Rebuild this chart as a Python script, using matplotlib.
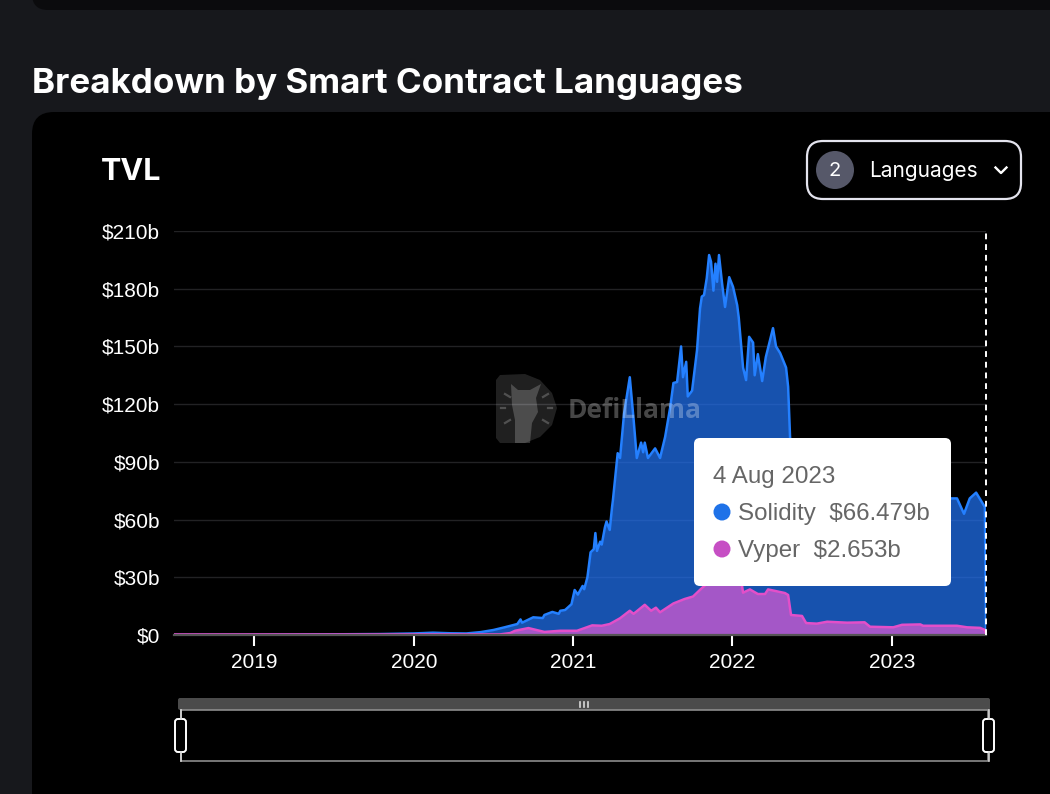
import matplotlib
matplotlib.use("Agg")
import matplotlib.pyplot as plt
from matplotlib.patches import FancyBboxPatch, Circle, Rectangle, Polygon

# Chart values. Years are decimal, values in $b.
solidity_years = [2018.495, 2019.0, 2019.47, 2019.79, 2020.0, 2020.12, 2020.23, 2020.33, 2020.42, 2020.50,
                  2020.57, 2020.65, 2020.67, 2020.68, 2020.75, 2020.81, 2020.82, 2020.87, 2020.91, 2020.92,
                  2020.95, 2020.99, 2021.01, 2021.03, 2021.06, 2021.07, 2021.09, 2021.11, 2021.13, 2021.14,
                  2021.15, 2021.17, 2021.18, 2021.20, 2021.21, 2021.23, 2021.245, 2021.25, 2021.28, 2021.295,
                  2021.32, 2021.356, 2021.38, 2021.40, 2021.427, 2021.44, 2021.45, 2021.47, 2021.515, 2021.546,
                  2021.578, 2021.61, 2021.63, 2021.653, 2021.678, 2021.69, 2021.71, 2021.72, 2021.747, 2021.778,
                  2021.797, 2021.808, 2021.822, 2021.839, 2021.854, 2021.866, 2021.881, 2021.894, 2021.904, 2021.916,
                  2021.935, 2021.954, 2021.98, 2022.004, 2022.03, 2022.04, 2022.067, 2022.086, 2022.105, 2022.13,
                  2022.14, 2022.16, 2022.187, 2022.21, 2022.255, 2022.274, 2022.30, 2022.337, 2022.35, 2022.362,
                  2022.375, 2022.425, 2022.49, 2022.61, 2022.74, 2022.864, 2023.0, 2023.115, 2023.24, 2023.373,
                  2023.41, 2023.454, 2023.49, 2023.53, 2023.585, 2023.592]
solidity_tvl = [0.05, 0.1, 0.35, 0.5, 0.8, 1.2, 0.9, 0.8, 1.5, 2.6,
                4, 5.7, 8.1, 6.4, 9.2, 8.8, 10.4, 12, 11, 12.6,
                13, 16, 23.4, 21, 25.5, 23.8, 30, 43, 44.6, 53,
                43.7, 48.5, 47, 56, 59, 54.6, 66.7, 70, 94.5, 92,
                115, 134, 112, 92, 100, 95, 100, 92, 97, 92,
                103, 118.5, 131, 131.5, 150, 134, 142, 124, 127, 148,
                169.8, 175.9, 176.7, 185.4, 197.5, 194, 179, 193, 183.6, 197.5,
                183, 170.5, 186, 181, 171.5, 165, 139, 132.5, 155, 152,
                135, 146, 132, 144.5, 159.5, 150, 146.5, 139, 129, 103,
                90, 82, 70, 62, 55, 52, 55, 60, 65, 71,
                71, 63, 71, 74, 66.5, 0]

vyper_years = [2018.495, 2019.0, 2020.0, 2020.54, 2020.605, 2020.636, 2020.72, 2020.82, 2020.92, 2021.025,
               2021.12, 2021.18, 2021.23, 2021.295, 2021.356, 2021.38, 2021.45, 2021.49, 2021.52, 2021.546,
               2021.63, 2021.70, 2021.753, 2021.81, 2021.89, 2021.98, 2022.06, 2022.067, 2022.11, 2022.16,
               2022.205, 2022.224, 2022.33, 2022.35, 2022.368, 2022.437, 2022.463, 2022.53, 2022.595, 2022.72,
               2022.83, 2022.864, 2023.01, 2023.065, 2023.18, 2023.197, 2023.41, 2023.473, 2023.555, 2023.585,
               2023.592]
vyper_tvl = [0.3, 0.3, 0.3, 0.3, 1, 2.2, 3.6, 1.6, 2.2, 2.2,
             5, 4.8, 5.7, 8.7, 12.6, 11, 15.7, 12.6, 14.2, 11.8,
             16.4, 18.7, 20, 24.5, 30, 34, 26, 22, 23.7, 21.3,
             21.3, 23.7, 21.8, 20.8, 10.4, 9.9, 6.2, 5.9, 6.9, 6.4,
             6.6, 4.3, 4, 5.3, 5.5, 4.8, 4.8, 4, 3.7, 2.65,
             0]

y_ticks = [0, 30, 60, 90, 120, 150, 180, 210]
x_ticks = [2019, 2020, 2021, 2022, 2023]

page_bg = "#17181c"
blue = "#2172f2"
pink = "#e34fc9"
sans = ["Liberation Sans", "DejaVu Sans"]
ui = ["Inter", "DejaVu Sans"]

fig = plt.figure(figsize=(10.5, 7.94), dpi=100, facecolor=page_bg)


def pixel_axes(zorder):
    # Full figure axes measured in picture pixels, y going down.
    a = fig.add_axes([0, 0, 1, 1], zorder=zorder)
    a.set_xlim(0, 1050)
    a.set_ylim(794, 0)
    a.axis("off")
    return a


def rounded(a, x0, y0, x1, y1, r, **kw):
    box = FancyBboxPatch((x0 + r, y0 + r), x1 - x0 - 2 * r, y1 - y0 - 2 * r,
                         boxstyle=f"round,pad={r},rounding_size={r}", **kw)
    a.add_patch(box)
    return box


# Page background and cards.
back = pixel_axes(0)
rounded(back, 32, -40, 1100, 10, 16, fc="#0b0b0d", ec="none")
rounded(back, 32, 112, 1100, 860, 22, fc="#000000", ec="none")
back.text(32, 84, "Breakdown by Smart Contract Languages", color="white", fontsize=25.2,
          fontweight="bold", family=ui, va="center", ha="left")
back.text(101, 172, "TVL", color="white", fontsize=22, fontweight="bold", family=ui, va="center", ha="left")

# The chart itself.
ax = fig.add_axes([174 / 1050, (794 - 635) / 794, 812 / 1050, 404 / 794], zorder=1)
ax.set_facecolor("none")
ax.set_xlim(2018.495, 2023.592)
ax.set_ylim(0, 210)
ax.set_yticks(y_ticks)
ax.set_yticklabels([f"${v}" + ("b" if v else "") for v in y_ticks], color="white", fontsize=15, family=sans)
ax.set_xticks(x_ticks)
ax.set_xticklabels([str(y) for y in x_ticks], color="white", fontsize=15, family=sans)
ax.tick_params(axis="y", length=0, pad=10)
ax.tick_params(axis="x", length=8, width=1.5, color="white", pad=5)
ax.grid(axis="y", color="#222224", linewidth=1)
ax.set_axisbelow(True)
for side in ["top", "right", "left"]:
    ax.spines[side].set_visible(False)
ax.spines["bottom"].set_color("#555555")
ax.spines["bottom"].set_linewidth(1.6)

ax.fill_between(solidity_years, solidity_tvl, color=blue, alpha=0.72, linewidth=0)
ax.plot(solidity_years, solidity_tvl, color="#2480ff", linewidth=1.8)
ax.fill_between(vyper_years, vyper_tvl, color="#d45ad0", alpha=0.75, linewidth=0)
ax.plot(vyper_years, vyper_tvl, color=pink, linewidth=1.8)
ax.axvline(2023.592, color="white", linewidth=1.4, linestyle=(0, (3, 2.5)), clip_on=False, zorder=5)

# Everything floating over the chart.
top = pixel_axes(2)

# Watermark.
wm = "#ffffff"
logo = [(496, 380), (500, 375), (525, 374), (540, 380), (552, 393), (557, 408), (552, 425),
        (540, 437), (525, 443), (500, 443), (496, 438)]
top.add_patch(Polygon(logo, closed=True, fc=wm, alpha=0.13, ec="none"))
llama = [(511, 384), (518, 390), (530, 390), (541, 384), (536, 398), (538, 412), (532, 423),
         (530, 443), (515, 443), (515, 420), (512, 405)]
top.add_patch(Polygon(llama, closed=True, fc=wm, alpha=0.2, ec="none"))
for xs, ys in [((505, 510), (394, 397)), ((501, 505), (408, 408)), ((505, 510), (423, 420)),
               ((543, 548), (397, 394)), ((548, 552), (408, 408)), ((543, 548), (420, 423))]:
    top.plot(xs, ys, color=wm, alpha=0.22, lw=1.6)
top.text(568, 411, "DefiLlama", color=wm, alpha=0.28, fontsize=19, fontweight="bold",
         family=["Open Sans", "DejaVu Sans"], va="center", ha="left")

# Tooltip.
rounded(top, 694, 438, 951, 586, 6, fc="white", ec="none")
top.text(713, 477, "4 Aug 2023", color="#666666", fontsize=17.4, family=sans, va="center")
top.add_patch(Circle((722, 512), 8.5, fc="#1f72e8", ec="none"))
top.text(738, 514, "Solidity  $66.479b", color="#666666", fontsize=17.4, family=sans, va="center")
top.add_patch(Circle((722, 549), 8.5, fc="#c64fc4", ec="none"))
top.text(738, 551, "Vyper  $2.653b", color="#666666", fontsize=17.4, family=sans, va="center")

# Languages dropdown.
rounded(top, 807, 141, 1021, 199, 16, fc="black", ec="#e4e4ee", lw=1.6)
top.add_patch(Circle((835, 170), 19, fc="#565869", ec="none"))
top.text(835, 171, "2", color="white", fontsize=14.5, family=ui, ha="center", va="center")
top.text(869, 171, "Languages", color="white", fontsize=15, family=ui, va="center")
top.plot([995.5, 1001, 1006.5], [167.5, 173, 167.5], color="white", lw=1.7)

# Zoom slider under the chart.
rounded(top, 178, 698, 990, 710, 2, fc="#4b4b4b", ec="none")
top.add_patch(Rectangle((181, 710), 807, 51, fc="none", ec="#8c8c8c", lw=1.2))
for x in [580, 584, 588]:
    top.plot([x, x], [702, 707], color="#d8d8d8", lw=1.2)
for x0 in [175, 983]:
    rounded(top, x0, 719, x0 + 11, 752, 3, fc="black", ec="white", lw=1.4)
    top.plot([x0 + 5.5, x0 + 5.5], [710, 719], color="#d8d8d8", lw=1.2)
    top.plot([x0 + 5.5, x0 + 5.5], [752, 761], color="#d8d8d8", lw=1.2)

fig.savefig("out.png", dpi=100, facecolor=page_bg)
